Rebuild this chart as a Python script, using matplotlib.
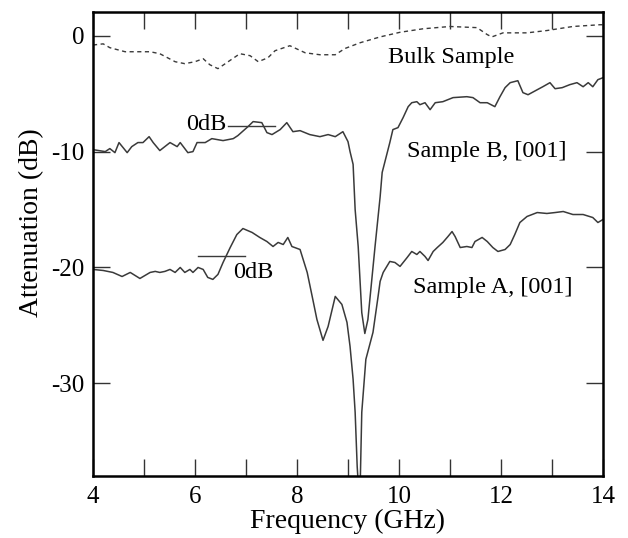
import matplotlib
matplotlib.use("Agg")
import matplotlib.pyplot as plt
from matplotlib.ticker import FuncFormatter

plt.rcParams['font.family'] = ['Liberation Serif', 'DejaVu Serif']

# Bulk sample (dashed)
bulk_f = [4.00, 4.04, 4.20, 4.33, 4.63, 5.12, 5.31, 5.61, 5.80, 6.00, 6.16, 6.29, 6.45,
          6.65, 6.88, 7.08, 7.24, 7.43, 7.57, 7.86, 8.16, 8.45, 8.75, 8.94, 9.24, 9.63,
          10.02, 10.47, 11.00, 11.53, 11.73, 11.82, 12.04, 12.51, 12.90, 13.41, 13.94, 14.00]
bulk_db = [-0.80, -0.78, -0.70, -1.03, -1.38, -1.38, -1.55, -2.24, -2.41, -2.24, -1.98, -2.50, -2.84,
           -2.24, -1.55, -1.72, -2.24, -1.90, -1.29, -0.86, -1.47, -1.64, -1.64, -1.10, -0.60, -0.10,
           0.30, 0.60, 0.80, 0.70, 0.10, -0.10, 0.25, 0.25, 0.45, 0.80, 0.95, 0.95]

# Sample B, [001]
b_f = [4.00, 4.24, 4.33, 4.43, 4.51, 4.67, 4.76, 4.88, 4.98, 5.10, 5.18, 5.31, 5.51, 5.65,
       5.71, 5.86, 5.96, 6.04, 6.20, 6.33, 6.55, 6.75, 6.84, 7.04, 7.14, 7.31, 7.41, 7.51,
       7.67, 7.80, 7.92, 8.06, 8.25, 8.45, 8.61, 8.75, 8.90, 9.00, 9.04, 9.10, 9.14, 9.20,
       9.27, 9.33, 9.39, 9.53, 9.63, 9.67, 9.82, 9.88, 9.98, 10.08, 10.18, 10.25, 10.35,
       10.41, 10.51, 10.61, 10.71, 10.86, 11.06, 11.33, 11.45, 11.59, 11.73, 11.88, 11.98,
       12.08, 12.18, 12.33, 12.43, 12.53, 12.71, 12.82, 12.96, 13.06, 13.20, 13.35, 13.49,
       13.61, 13.71, 13.80, 13.90, 14.00]
b_db = [-9.83, -10.00, -9.74, -10.09, -9.22, -10.09, -9.57, -9.22, -9.22, -8.71, -9.22, -9.91, -9.22, -9.57,
        -9.22, -10.09, -10.00, -9.22, -9.22, -8.88, -9.05, -8.88, -8.62, -7.84, -7.41, -7.50, -8.36, -8.53,
        -8.10, -7.50, -8.28, -8.19, -8.53, -8.71, -8.53, -8.71, -8.28, -9.14, -10.00, -11.10, -15.00, -18.20,
        -23.90, -25.70, -24.50, -18.20, -13.90, -11.80, -9.22, -8.10, -7.93, -7.07, -6.12, -5.78, -5.69,
        -5.95, -5.78, -6.38, -5.78, -5.69, -5.34, -5.26, -5.34, -5.78, -5.78, -6.12, -5.26,
        -4.48, -4.05, -3.88, -4.91, -5.09, -4.66, -4.40, -4.05, -4.57, -4.48, -4.22, -4.05,
        -4.40, -4.05, -4.40, -3.79, -3.62]

# Sample A, [001]
a_f = [4.00, 4.20, 4.39, 4.57, 4.73, 4.92, 5.12, 5.22, 5.31, 5.41, 5.51, 5.61, 5.71, 5.80,
       5.90, 5.96, 6.06, 6.16, 6.25, 6.35, 6.45, 6.55, 6.69, 6.82, 6.94, 7.12, 7.27, 7.41,
       7.53, 7.63, 7.73, 7.82, 7.90, 8.06, 8.20, 8.31, 8.39, 8.51, 8.61, 8.75, 8.88, 8.98,
       9.04, 9.10, 9.14, 9.18, 9.20, 9.24, 9.27, 9.35, 9.49, 9.59, 9.63, 9.69, 9.82, 9.92,
       10.02, 10.16, 10.25, 10.35, 10.41, 10.51, 10.57, 10.67, 10.75, 10.86, 10.96, 11.04,
       11.10, 11.20, 11.33, 11.43, 11.49, 11.63, 11.73, 11.84, 11.94, 12.08, 12.18, 12.27,
       12.37, 12.51, 12.71, 12.90, 13.06, 13.22, 13.41, 13.61, 13.80, 13.90, 14.00]
a_db = [-20.17, -20.26, -20.43, -20.78, -20.43, -20.95, -20.43, -20.34, -20.43, -20.34, -20.17, -20.43, -20.00, -20.43,
        -20.17, -20.43, -20.00, -20.17, -20.86, -21.03, -20.60, -19.57, -18.28, -17.16, -16.64, -16.98, -17.41, -17.76,
        -18.19, -17.84, -18.02, -17.41, -18.19, -18.45, -20.43, -22.76, -24.48, -26.29, -25.09, -22.50, -23.19, -24.74,
        -26.81, -29.66, -32.50, -37.16, -38.60, -38.60, -32.50, -27.93, -25.60, -22.50, -21.20, -20.43, -19.48, -19.57,
        -19.91, -19.14, -18.62, -18.88, -18.62, -19.05, -19.40, -18.62, -18.28, -17.84, -17.33, -16.90,
        -17.33, -18.28, -18.19, -18.28, -17.76, -17.41, -17.76, -18.28, -18.62, -18.45, -18.02, -17.16,
        -16.12, -15.60, -15.26, -15.34, -15.26, -15.17, -15.43, -15.43, -15.69, -16.12, -15.86]

# 0 dB reference markers
ref_b_f = [6.65, 7.57]
ref_b_db = [-7.76, -7.76]
ref_a_f = [6.06, 6.98]
ref_a_db = [-19.05, -19.05]

x_ticks = [4, 6, 8, 10, 12, 14]
y_ticks = [0, -10, -20, -30]

fig = plt.figure(figsize=(6.28, 5.38), dpi=100)
ax = fig.add_axes([93/628, 1 - 476/538, (603-93)/628, (476-12)/538])

line_color = '#3a3a3a'
ax.plot(bulk_f, bulk_db, color=line_color, lw=1.0, linestyle=(0, (3, 2.5)))
ax.plot(b_f, b_db, color=line_color, lw=1.1)
ax.plot(a_f, a_db, color=line_color, lw=1.1)
ax.plot(ref_b_f, ref_b_db, color=line_color, lw=1.0)
ax.plot(ref_a_f, ref_a_db, color=line_color, lw=1.0)

ax.set_xlim(4, 14)
ax.set_ylim(-38, 2.05)
ax.set_xticks(x_ticks)
ax.set_xticks(list(range(4, 15)), minor=True)
ax.set_yticks(y_ticks)
ax.yaxis.set_major_formatter(FuncFormatter(lambda v, p: '%d' % v))
ax.tick_params(which='both', direction='in', top=True, right=True, labelsize=18,
               width=1.0, color='#333333', length=12)
ax.tick_params(axis='x', pad=7)
ax.tick_params(axis='y', pad=6)
for s in ax.spines.values():
    s.set_linewidth(1.8)

ax.set_xlabel('Frequency (GHz)', fontsize=20, labelpad=1)
ax.set_ylabel('Attenuation (dB)', fontsize=20, labelpad=5)
ax.yaxis.label.set_y(0.545)

ax.text(11.02, -1.9, 'Bulk Sample', fontsize=17.5, ha='center', va='center')
ax.text(11.73, -10.0, 'Sample B, [001]', fontsize=17.5, ha='center', va='center')
ax.text(11.84, -21.7, 'Sample A, [001]', fontsize=17.5, ha='center', va='center')
ax.text(6.62, -7.7, '0dB', fontsize=17.5, ha='right', va='center')
ax.text(6.74, -20.4, '0dB', fontsize=17.5, ha='left', va='center')

fig.savefig('out.png', dpi=100)
